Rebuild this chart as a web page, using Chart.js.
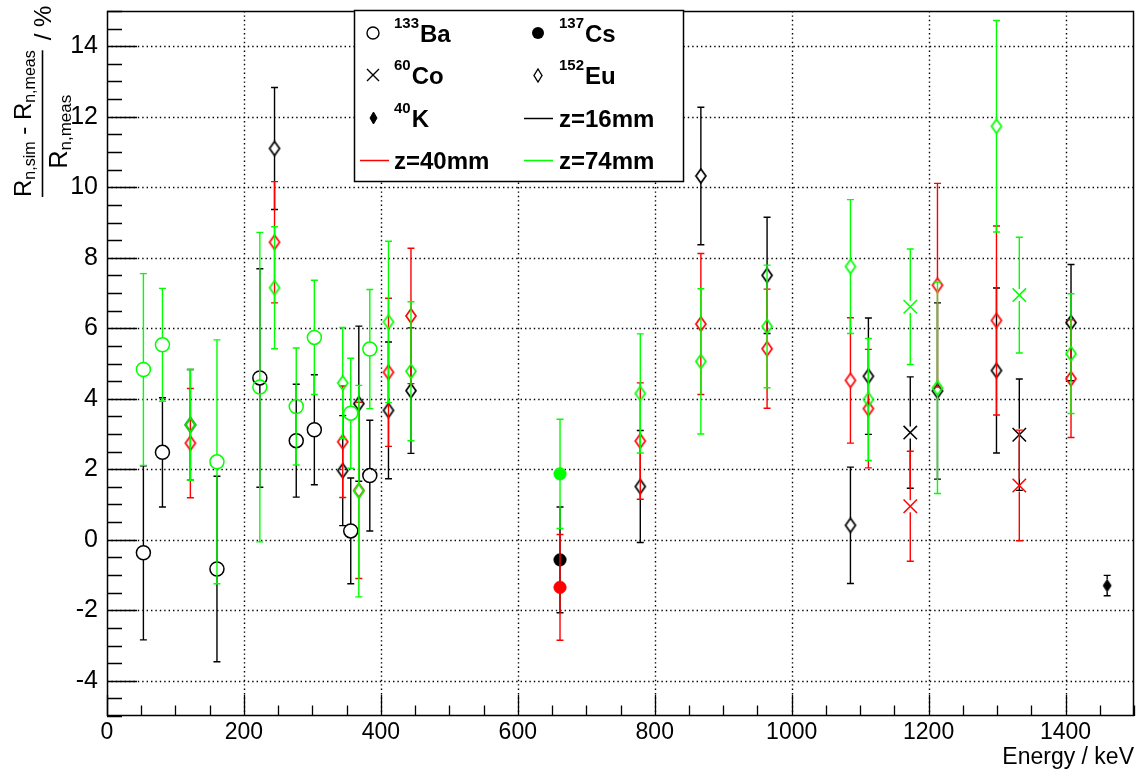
<!DOCTYPE html>
<html>
<head>
<meta charset="utf-8">
<script src="https://cdn.jsdelivr.net/npm/chart.js@4.4.1/dist/chart.umd.min.js"></script>
<style>
html,body{margin:0;padding:0;background:#fff;overflow:hidden}
canvas{display:block}
</style>
</head>
<body>
<canvas id="c" width="1145" height="773"></canvas>
<script>
// ---------- DATA ----------
// Gamma-line energies (keV)
const baEnergy = [53.16, 80.99, 160.61, 223.24, 276.40, 302.85, 356.01, 383.85];
const csEnergy = [661.66];
const coEnergy = [1173.23, 1332.49];
const euEnergy = [121.78, 244.70, 344.28, 367.79, 411.12, 443.96, 778.90, 867.38, 964.08, 1085.84, 1112.08, 1212.95, 1299.14, 1408.01];
const kEnergy  = [1460.82];

// z = 16 mm (black)
const baZ16 = [-0.37, 2.48, -0.83, 4.59, 2.81, 3.12, 0.25, 1.82];
const baZ16Err = [2.47, 1.55, 2.63, 3.10, 1.60, 1.56, 1.50, 1.57];
const csZ16 = [-0.57];
const csZ16Err = [1.50];
const coZ16 = [3.04, 2.98];
const coZ16Err = [1.58, 1.58];
const euZ16 = [3.26, 11.10, 1.96, 3.86, 3.67, 4.23, 1.51, 10.32, 7.50, 0.41, 4.64, 4.22, 4.80, 6.16];
const euZ16Err = [1.57, 1.73, 1.56, 2.20, 1.94, 1.78, 1.59, 1.95, 1.65, 1.65, 1.65, 2.50, 2.34, 1.65];
const kZ16 = [-1.30];
const kZ16Err = [0.29];

// z = 40 mm (red)
const csZ40 = [-1.35];
const csZ40Err = [1.50];
const coZ40 = [0.95, 1.54];
const coZ40Err = [1.56, 1.57];
const euZ40 = [2.74, 8.44, 2.78, 1.40, 4.75, 6.35, 2.80, 6.12, 5.42, 4.52, 3.72, 7.22, 6.22, 4.57];
const euZ40Err = [1.55, 1.72, 1.58, 2.50, 2.10, 1.92, 1.65, 2.00, 1.69, 1.78, 1.68, 2.89, 2.68, 1.67];

// z = 74 mm (green)
const baZ74 = [4.83, 5.53, 2.21, 4.33, 3.78, 5.74, 3.59, 5.41];
const baZ74Err = [2.72, 1.60, 3.46, 4.39, 1.66, 1.62, 1.56, 1.69];
const csZ74 = [1.87];
const csZ74Err = [1.55];
const coZ74 = [6.61, 6.94];
const coZ74Err = [1.64, 1.64];
const euZ74 = [3.26, 7.15, 4.45, 1.38, 6.18, 4.78, 4.15, 5.06, 6.05, 7.75, 3.98, 4.31, 11.73, 5.28];
const euZ74Err = [1.57, 1.73, 1.57, 3.00, 2.29, 1.97, 1.69, 2.06, 1.74, 1.90, 1.73, 3.00, 3.00, 1.70];

// Axis ranges / tick values
const xRange = [0, 1500];
const yRange = [-5, 15];
const xTickValues = [0, 200, 400, 600, 800, 1000, 1200, 1400];
const yTickValues = [-4, -2, 0, 2, 4, 6, 8, 10, 12, 14];
const xStep = 200;
const yStep = 2;

// Legend / titles text
const isotopeMass = ['133', '137', '60', '152', '40'];
const isotopeName = ['Ba', 'Cs', 'Co', 'Eu', 'K'];
const distanceLabels = ['z=16mm', 'z=40mm', 'z=74mm'];
const xTitle = 'Energy / keV';

// ---------- STYLE ----------
const FONT = '"Liberation Sans", Arial, Helvetica, sans-serif';
const COLORS = { z16: '#000000', z40: '#ff0000', z74: '#00ff00' };

function diamondCanvas(color, filled, hw, hh, lw) {
  const c = document.createElement('canvas');
  const w = Math.ceil(hw * 2 + 4), h = Math.ceil(hh * 2 + 4);
  c.width = w; c.height = h;
  const g = c.getContext('2d');
  const cx = w / 2, cy = h / 2;
  g.beginPath();
  g.moveTo(cx, cy - hh); g.lineTo(cx + hw, cy); g.lineTo(cx, cy + hh); g.lineTo(cx - hw, cy); g.closePath();
  if (filled) { g.fillStyle = color; g.fill(); }
  g.strokeStyle = color; g.lineWidth = lw; g.stroke();
  return c;
}

function markerStyle(kind, color) {
  switch (kind) {
    case 'openCircle':
      return { pointStyle: 'circle', pointRadius: 7, pointBorderWidth: 1.5, pointBackgroundColor: 'rgba(0,0,0,0)', pointBorderColor: color, gap: 7 };
    case 'fullCircle':
      return { pointStyle: 'circle', pointRadius: 6.3, pointBorderWidth: 0.5, pointBackgroundColor: color, pointBorderColor: color, gap: 0 };
    case 'cross':
      return { pointStyle: 'crossRot', pointRadius: 9.5, pointBorderWidth: 1.5, pointBackgroundColor: color, pointBorderColor: color, gap: 6 };
    case 'openDiamond':
      return { pointStyle: diamondCanvas(color, false, 5, 7, 1.7), pointRadius: 7, pointBorderColor: color, pointBackgroundColor: color, gap: 7 };
    case 'fullDiamond':
      return { pointStyle: diamondCanvas(color, true, 4, 6, 1), pointRadius: 6, pointBorderColor: color, pointBackgroundColor: color, gap: 6 };
  }
}

function makeSet(label, energies, values, errors, zKey, kind, order) {
  const color = COLORS[zKey];
  return Object.assign({
    label,
    data: energies.map((e, i) => ({ x: e, y: values[i] })),
    errors,
    color,
    order,
    showLine: false,
    pointHoverRadius: 7,
    pointHitRadius: 0
  }, markerStyle(kind, color));
}

const datasets = [
  makeSet('133Ba z=16mm', baEnergy, baZ16, baZ16Err, 'z16', 'openCircle', 3),
  makeSet('137Cs z=16mm', csEnergy, csZ16, csZ16Err, 'z16', 'fullCircle', 3),
  makeSet('60Co z=16mm', coEnergy, coZ16, coZ16Err, 'z16', 'cross', 3),
  makeSet('152Eu z=16mm', euEnergy, euZ16, euZ16Err, 'z16', 'openDiamond', 3),
  makeSet('40K z=16mm', kEnergy, kZ16, kZ16Err, 'z16', 'fullDiamond', 3),
  makeSet('137Cs z=40mm', csEnergy, csZ40, csZ40Err, 'z40', 'fullCircle', 2),
  makeSet('60Co z=40mm', coEnergy, coZ40, coZ40Err, 'z40', 'cross', 2),
  makeSet('152Eu z=40mm', euEnergy, euZ40, euZ40Err, 'z40', 'openDiamond', 2),
  makeSet('133Ba z=74mm', baEnergy, baZ74, baZ74Err, 'z74', 'openCircle', 1),
  makeSet('137Cs z=74mm', csEnergy, csZ74, csZ74Err, 'z74', 'fullCircle', 1),
  makeSet('60Co z=74mm', coEnergy, coZ74, coZ74Err, 'z74', 'cross', 1),
  makeSet('152Eu z=74mm', euEnergy, euZ74, euZ74Err, 'z74', 'openDiamond', 1)
];

// ---------- PLUGINS ----------
const errorBars = {
  id: 'errorBars',
  beforeDatasetDraw(chart, args) {
    const ds = chart.data.datasets[args.index];
    if (!ds.errors) return;
    const { ctx } = chart;
    const xs = chart.scales.x, ys = chart.scales.y;
    ctx.save();
    ctx.strokeStyle = ds.color;
    ctx.lineWidth = 1.4;
    ds.data.forEach((p, i) => {
      const e = ds.errors[i];
      const px = xs.getPixelForValue(p.x);
      const py = ys.getPixelForValue(p.y);
      const top = ys.getPixelForValue(p.y + e);
      const bot = ys.getPixelForValue(p.y - e);
      const g = ds.gap;
      ctx.beginPath();
      if (py - g > top) { ctx.moveTo(px, top); ctx.lineTo(px, py - g); }
      if (py + g < bot) { ctx.moveTo(px, py + g); ctx.lineTo(px, bot); }
      ctx.moveTo(px - 3.5, top); ctx.lineTo(px + 3.5, top);
      ctx.moveTo(px - 3.5, bot); ctx.lineTo(px + 3.5, bot);
      ctx.stroke();
    });
    ctx.restore();
  }
};

const frame = {
  id: 'rootFrame',
  beforeDatasetsDraw(chart) {
    const { ctx, chartArea: a } = chart;
    const xs = chart.scales.x, ys = chart.scales.y;
    ctx.save();
    ctx.strokeStyle = '#000';
    // dotted grid
    ctx.lineWidth = 1.4;
    ctx.setLineDash([1.4, 3.0]);
    ctx.beginPath();
    xs.ticks.forEach(t => {
      if (t.value <= xRange[0] || t.value >= xRange[1]) return;
      const px = Math.round(xs.getPixelForValue(t.value)) + 0.5;
      ctx.moveTo(px, a.top); ctx.lineTo(px, a.bottom);
    });
    ys.ticks.forEach(t => {
      if (t.value <= yRange[0] || t.value >= yRange[1]) return;
      const py = Math.round(ys.getPixelForValue(t.value)) + 0.5;
      ctx.moveTo(a.left, py); ctx.lineTo(a.right, py);
    });
    ctx.stroke();
    ctx.setLineDash([]);
    // tick marks (major + 4 subdivisions)
    ctx.lineWidth = 1.3;
    ctx.beginPath();
    const xMinor = xStep / 4;
    for (let v = xRange[0]; v <= xRange[1] + 1e-9; v += xMinor) {
      const px = Math.round(xs.getPixelForValue(v)) + 0.5;
      const major = Math.abs(v / xStep - Math.round(v / xStep)) < 1e-6;
      ctx.moveTo(px, a.bottom); ctx.lineTo(px, a.bottom - (major ? 21 : 10.5));
    }
    const yMinor = yStep / 4;
    for (let v = yRange[0]; v <= yRange[1] + 1e-9; v += yMinor) {
      const py = Math.round(ys.getPixelForValue(v)) + 0.5;
      const major = Math.abs(v / yStep - Math.round(v / yStep)) < 1e-6;
      ctx.moveTo(a.left, py); ctx.lineTo(a.left + (major ? 30 : 15), py);
    }
    ctx.stroke();
    // frame
    ctx.lineWidth = 1.5;
    ctx.strokeRect(a.left + 0.5, a.top + 0.5, a.right - a.left - 1, a.bottom - a.top - 1);
    ctx.restore();
  }
};

function drawRotSegs(ctx, segs, baselineX, startY) {
  // text reading bottom-to-top, baseline at screen x = baselineX
  let y = startY;
  segs.forEach(s => {
    ctx.font = s.font;
    const w = ctx.measureText(s.t).width;
    ctx.save();
    ctx.translate(baselineX + (s.dy || 0), y);
    ctx.rotate(-Math.PI / 2);
    ctx.textAlign = 'left';
    ctx.textBaseline = 'alphabetic';
    ctx.fillText(s.t, 0, 0);
    ctx.restore();
    y -= w;
  });
  return startY - y;
}
function segsWidth(ctx, segs) {
  let w = 0;
  segs.forEach(s => { ctx.font = s.font; w += ctx.measureText(s.t).width; });
  return w;
}

const titles = {
  id: 'titles',
  afterDraw(chart) {
    const { ctx, chartArea: a } = chart;
    ctx.save();
    ctx.fillStyle = '#000';
    // x title
    ctx.font = '23px ' + FONT;
    ctx.textAlign = 'right';
    ctx.textBaseline = 'alphabetic';
    ctx.fillText(xTitle, a.right, 764);

    // y title (fraction)
    const big = '24px ' + FONT, small = '16px ' + FONT;
    const num = [
      { t: 'R', font: big }, { t: 'n,sim', font: small, dy: 4 },
      { t: ' - R', font: big }, { t: 'n,meas', font: small, dy: 4 }
    ];
    const numW = segsWidth(ctx, num);
    const barBottom = 197, barTop = barBottom - numW;
    drawRotSegs(ctx, num, 31, barBottom);
    ctx.strokeStyle = '#000';
    ctx.lineWidth = 1.6;
    ctx.beginPath();
    ctx.moveTo(42.5, barBottom); ctx.lineTo(42.5, barTop);
    ctx.stroke();
    const bigD = '25px ' + FONT, smallD = '17px ' + FONT;
    const den = [{ t: 'R', font: bigD }, { t: 'n,meas', font: smallD, dy: 4 }];
    const denW = segsWidth(ctx, den);
    drawRotSegs(ctx, den, 67, (barBottom + barTop) / 2 + 8 + denW / 2);
    drawRotSegs(ctx, [{ t: '/ %', font: big }], 51, barTop - 10);

    // legend
    const L = { x: 354, y: 10, w: 329, h: 171 };
    ctx.fillStyle = '#fff';
    ctx.fillRect(L.x, L.y, L.w, L.h);
    ctx.strokeStyle = '#000';
    ctx.lineWidth = 1.5;
    ctx.strokeRect(L.x + 0.5, L.y + 0.5, L.w, L.h);
    const rowsY = [33, 75, 118, 160];
    const colMarkX = [373, 538], colTextX = [394, 559];
    const bold = 'bold 24px ' + FONT, sup = 'bold 15px ' + FONT;
    ctx.fillStyle = '#000';
    ctx.textAlign = 'left';
    ctx.textBaseline = 'alphabetic';
    function isoText(col, row, k) {
      const x = colTextX[col], cy = rowsY[row];
      ctx.font = sup;
      ctx.fillText(isotopeMass[k], x, cy - 5);
      const w = ctx.measureText(isotopeMass[k]).width;
      ctx.font = bold;
      ctx.fillText(isotopeName[k], x + w + 1, cy + 8.5);
    }
    function plainText(col, row, s) {
      ctx.font = bold;
      ctx.fillText(s, colTextX[col], rowsY[row] + 8.5);
    }
    // markers
    ctx.strokeStyle = '#000'; ctx.lineWidth = 1.4;
    ctx.beginPath(); ctx.arc(colMarkX[0], rowsY[0], 6, 0, Math.PI * 2); ctx.stroke();
    ctx.beginPath(); ctx.arc(colMarkX[1], rowsY[0], 6, 0, Math.PI * 2); ctx.fill();
    ctx.beginPath();
    ctx.moveTo(colMarkX[0] - 6, rowsY[1] - 6); ctx.lineTo(colMarkX[0] + 6, rowsY[1] + 6);
    ctx.moveTo(colMarkX[0] - 6, rowsY[1] + 6); ctx.lineTo(colMarkX[0] + 6, rowsY[1] - 6);
    ctx.stroke();
    const od = diamondCanvas('#000', false, 4, 6.5, 1.4);
    ctx.drawImage(od, Math.round(colMarkX[1] - od.width / 2), Math.round(rowsY[1] - od.height / 2));
    const fd = diamondCanvas('#000', true, 3.5, 6, 1);
    ctx.drawImage(fd, Math.round(colMarkX[0] - fd.width / 2), Math.round(rowsY[2] - fd.height / 2));
    function lineSample(col, row, color) {
      ctx.strokeStyle = color; ctx.lineWidth = 1.5;
      const x0 = col === 0 ? 360 : 524;
      ctx.beginPath();
      ctx.moveTo(x0, rowsY[row] + 0.5); ctx.lineTo(x0 + 29, rowsY[row] + 0.5);
      ctx.stroke();
    }
    lineSample(1, 2, COLORS.z16);
    lineSample(0, 3, COLORS.z40);
    lineSample(1, 3, COLORS.z74);
    ctx.fillStyle = '#000';
    isoText(0, 0, 0);
    isoText(1, 0, 1);
    isoText(0, 1, 2);
    isoText(1, 1, 3);
    isoText(0, 2, 4);
    plainText(1, 2, distanceLabels[0]);
    plainText(0, 3, distanceLabels[1]);
    plainText(1, 3, distanceLabels[2]);
    ctx.restore();
  }
};

// ---------- CHART ----------
new Chart(document.getElementById('c'), {
  type: 'scatter',
  data: { datasets },
  options: {
    responsive: false,
    animation: false,
    devicePixelRatio: 1,
    events: [],
    layout: { padding: { top: 5, right: 5, left: 0, bottom: 0 } },
    plugins: { legend: { display: false }, tooltip: { enabled: false } },
    scales: {
      x: {
        type: 'linear', position: 'bottom', min: xRange[0], max: xRange[1],
        afterBuildTicks(s) { s.ticks = xTickValues.map(v => ({ value: v })); },
        ticks: { autoSkip: false, maxRotation: 0, color: '#000', font: { family: FONT, size: 23 }, padding: 3, callback: v => String(v) },
        grid: { display: false, drawTicks: false },
        border: { display: false },
        afterFit(s) { s.height = 57; s.paddingLeft = 0; s.paddingRight = 0; s.paddingTop = 0; s.paddingBottom = 0; }
      },
      y: {
        type: 'linear', position: 'left', min: yRange[0], max: yRange[1],
        afterBuildTicks(s) { s.ticks = yTickValues.map(v => ({ value: v })); },
        ticks: { autoSkip: false, color: '#000', font: { family: FONT, size: 25 }, padding: 9, callback: v => String(v) },
        grid: { display: false, drawTicks: false },
        border: { display: false },
        afterFit(s) { s.width = 107; s.paddingTop = 0; s.paddingBottom = 0; s.paddingLeft = 0; s.paddingRight = 0; }
      }
    }
  },
  plugins: [frame, errorBars, titles]
});
</script>
</body>
</html>
